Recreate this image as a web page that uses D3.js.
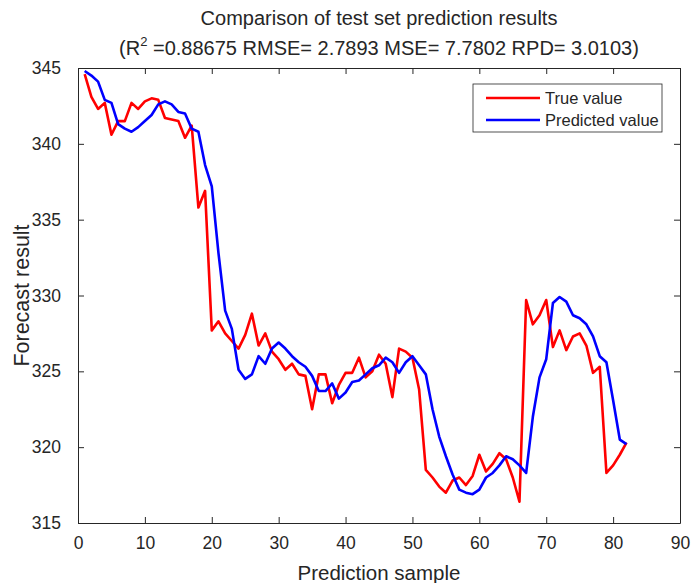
<!DOCTYPE html>
<html>
<head>
<meta charset="utf-8">
<script src="https://cdn.jsdelivr.net/npm/d3@7"></script>
<style>
  body { margin: 0; background: #fff; }
  #chart text { font-family: "Liberation Sans", Arial, sans-serif; fill: #262626; }
</style>
</head>
<body>
<div id="chart"></div>
<script>
// sample index runs 1..82
const trueValues = [
  344.6, 343.1, 342.3, 342.7, 340.6, 341.5, 341.5, 342.7, 342.3, 342.8,
  343.0, 342.9, 341.7, 341.6, 341.5, 340.4, 341.2, 335.8, 336.9, 327.7,
  328.3, 327.5, 327.0, 326.5, 327.4, 328.8, 326.7, 327.5, 326.3, 325.8,
  325.1, 325.5, 324.8, 324.7, 322.5, 324.8, 324.8, 322.9, 324.1, 324.9,
  324.9, 325.9, 324.6, 325.0, 326.1, 325.5, 323.3, 326.5, 326.3, 325.9,
  323.8, 318.5, 318.0, 317.4, 317.0, 317.8, 318.0, 317.5, 318.1, 319.5,
  318.4, 318.9, 319.6, 319.2, 318.0, 316.4, 329.7, 328.1, 328.7, 329.7,
  326.6, 327.7, 326.4, 327.3, 327.5, 326.7, 324.9, 325.3, 318.3, 318.8,
  319.5, 320.3,
];
const predictedValues = [
  344.8, 344.5, 344.1, 342.9, 342.7, 341.3, 341.0, 340.8, 341.1, 341.5,
  341.9, 342.6, 342.8, 342.6, 342.1, 342.0, 341.0, 340.8, 338.6, 337.2,
  332.8, 329.0, 327.8, 325.1, 324.5, 324.8, 326.0, 325.5, 326.5, 326.9,
  326.5, 326.0, 325.6, 325.3, 324.7, 323.7, 323.7, 324.2, 323.2, 323.6,
  324.3, 324.4, 324.8, 325.2, 325.4, 325.9, 325.6, 324.9, 325.6, 326.0,
  325.4, 324.8, 322.5, 320.7, 319.4, 318.2, 317.2, 317.0, 316.9, 317.2,
  318.0, 318.3, 318.8, 319.4, 319.2, 318.8, 318.3, 322.0, 324.6, 325.8,
  329.5, 329.9, 329.6, 328.7, 328.5, 328.1, 327.3, 326.0, 325.6, 323.1,
  320.5, 320.2,
];
const xTicks = [0, 10, 20, 30, 40, 50, 60, 70, 80, 90];
const yTicks = [315, 320, 325, 330, 335, 340, 345];
const seriesNames = ['True value', 'Predicted value'];
const seriesColors = ['#ff0000', '#0000ff'];

const Chart = {};

Chart.config = function config() {
  const vm = this;
  vm.margin = { top: 68, right: 11, bottom: 60, left: 78 };
  vm.width = 691 - vm.margin.left - vm.margin.right;
  vm.height = 583 - vm.margin.top - vm.margin.bottom;
  vm.tickLen = 6;

  vm.x = d3.scaleLinear().domain([0, 90]).range([0, vm.width]);
  vm.y = d3.scaleLinear().domain([315, 345]).range([vm.height, 0]);
};

Chart.draw = function draw() {
  const vm = this;
  const svg = d3.select('#chart').append('svg')
    .attr('width', 691)
    .attr('height', 583);
  const g = svg.append('g')
    .attr('transform', `translate(${vm.margin.left},${vm.margin.top})`);

  // series: true first, predicted drawn over it
  const line = d3.line()
    .x((d, i) => vm.x(i + 1))
    .y(d => vm.y(d));
  [trueValues, predictedValues].forEach((vals, k) => {
    g.append('path')
      .datum(vals)
      .attr('fill', 'none')
      .attr('stroke', seriesColors[k])
      .attr('stroke-width', 2.6)
      .attr('stroke-linejoin', 'round')
      .attr('d', line);
  });

  // box axes with ticks pointing inward (matlab look)
  const axisStyle = (sel) => {
    sel.select('.domain').attr('stroke', '#262626');
    sel.selectAll('.tick line').attr('stroke', '#262626');
  };
  g.append('g')
    .attr('transform', `translate(0,${vm.height})`)
    .call(d3.axisBottom(vm.x).tickValues(xTicks).tickSizeInner(-vm.tickLen).tickSizeOuter(0).tickPadding(14))
    .call(axisStyle)
    .selectAll('text').style('font-size', '17.5px');
  g.append('g')
    .call(d3.axisTop(vm.x).tickValues(xTicks).tickSizeInner(-vm.tickLen).tickSizeOuter(0).tickFormat(''))
    .call(axisStyle);
  g.append('g')
    .call(d3.axisLeft(vm.y).tickValues(yTicks).tickSizeInner(-vm.tickLen).tickSizeOuter(0).tickPadding(17))
    .call(axisStyle)
    .selectAll('text').style('font-size', '17.5px');
  g.append('g')
    .attr('transform', `translate(${vm.width},0)`)
    .call(d3.axisRight(vm.y).tickValues(yTicks).tickSizeInner(-vm.tickLen).tickSizeOuter(0).tickFormat(''))
    .call(axisStyle);
  g.selectAll('.tick text').style('fill', '#262626');

  // labels
  g.append('text')
    .attr('x', vm.width / 2)
    .attr('y', vm.height + 57)
    .attr('text-anchor', 'middle')
    .style('font-size', '20.5px')
    .text('Prediction sample');
  g.append('text')
    .attr('transform', `translate(-49,${vm.height / 2}) rotate(-90)`)
    .attr('text-anchor', 'middle')
    .style('font-size', '21.5px')
    .text('Forecast result');

  // title, two lines
  svg.append('text')
    .attr('x', vm.margin.left + vm.width / 2)
    .attr('y', 25)
    .attr('text-anchor', 'middle')
    .style('font-size', '20px')
    .text('Comparison of test set prediction results');
  const sub = svg.append('text')
    .attr('x', vm.margin.left + vm.width / 2)
    .attr('y', 55)
    .attr('text-anchor', 'middle')
    .style('font-size', '20px');
  sub.append('tspan').text('(R');
  sub.append('tspan').attr('dy', -9).style('font-size', '13px').text('2');
  sub.append('tspan').attr('dy', 9).text(' =0.88675 RMSE= 2.7893 MSE= 7.7802 RPD= 3.0103)');

  // legend
  const leg = g.append('g').attr('transform', `translate(${vm.width - 207},16)`);
  leg.append('rect')
    .attr('width', 189)
    .attr('height', 48)
    .attr('fill', '#fff')
    .attr('stroke', '#262626')
    .attr('stroke-width', 0.8);
  seriesNames.forEach((name, k) => {
    const yy = 14 + k * 22;
    leg.append('line')
      .attr('x1', 13).attr('x2', 67)
      .attr('y1', yy).attr('y2', yy)
      .attr('stroke', seriesColors[k])
      .attr('stroke-width', 2.6);
    leg.append('text')
      .attr('x', 72)
      .attr('y', yy + 6)
      .style('font-size', '16.5px')
      .text(name);
  });

  return vm;
};

Chart.config();
Chart.draw();
</script>
</body>
</html>
